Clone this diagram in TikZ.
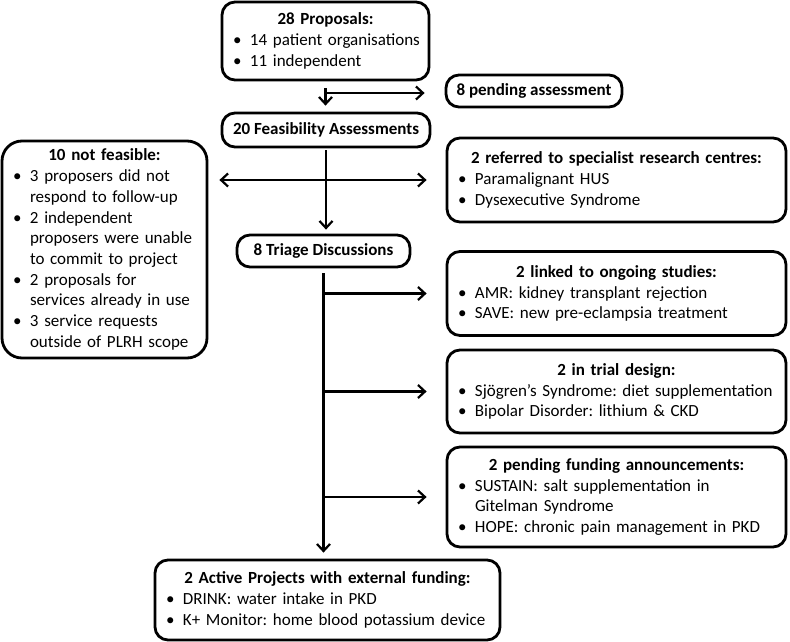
\documentclass[tikz,border=0pt]{standalone}
\usepackage{fontspec}
\setmainfont{Carlito}
\usetikzlibrary{arrows.meta}
\frenchspacing
\hyphenpenalty=10000

\newcommand{\bitem}[1]{\hspace*{7pt}\makebox[17pt][l]{\textbullet}#1}
\newcommand{\bcont}[1]{\hspace*{24pt}#1}
\newcommand{\btitle}[1]{\makebox[\hsize]{\textbf{#1}}}

\begin{document}
\begin{tikzpicture}[x=1pt,y=-1pt,
  box/.style={draw, line width=2.8pt, rounded corners=13pt, align=left,
    inner xsep=4pt, inner ysep=0pt, font=\fontsize{17}{20.7}\selectfont},
  smallbox/.style={box, align=center, font=\fontsize{17}{20.7}\selectfont\bfseries},
  flow/.style={line width=2.2pt, -{Straight Barb[length=7pt,width=13pt]}},
  twoway/.style={line width=2.2pt, {Straight Barb[length=7pt,width=13pt]}-{Straight Barb[length=7pt,width=13pt]}}]

	\useasboundingbox (0,0) rectangle (790,642);

	% main column
	\node[box, text width=199pt, minimum height=78pt] (prop) at (325.5,41)
	  {\btitle{28 Proposals:}\\ \bitem{14 patient organisations}\\ \bitem{11 independent}};
	\node[smallbox, minimum width=208pt, minimum height=34pt] (feas) at (326,130) {20 Feasibility Assessments};
	\node[smallbox, minimum width=173pt, minimum height=32pt] (triage) at (323.5,251) {8 Triage Discussions};
	\node[box, text width=337pt, minimum height=80pt] (active) at (327.5,600)
	  {\btitle{2 Active Projects with external funding:}\\ \bitem{DRINK: water intake in PKD}\\ \bitem{K+ Monitor: home blood potassium device}};

	% side boxes
	\node[smallbox, minimum width=176pt, minimum height=32pt] (pend) at (534,91) {8 pending assessment};
	\node[box, rounded corners=20pt, text width=197pt, minimum height=217pt] (notf) at (104.5,249.5)
	  {\btitle{10 not feasible:}\\ \bitem{3 proposers did not}\\ \bcont{respond to follow-up}\\
	   \bitem{2 independent}\\ \bcont{proposers were unable}\\ \bcont{to commit to project}\\
	   \bitem{2 proposals for}\\ \bcont{services already in use}\\ \bitem{3 service requests}\\ \bcont{outside of PLRH scope}};
	\node[box, text width=331pt, minimum height=84pt] (refer) at (616.5,180)
	  {\btitle{2 referred to specialist research centres:}\\ \bitem{Paramalignant HUS}\\ \bitem{Dysexecutive Syndrome}};
	\node[box, text width=331pt, minimum height=84pt] (linked) at (616.5,293.5)
	  {\btitle{2 linked to ongoing studies:}\\ \bitem{AMR: kidney transplant rejection}\\ \bitem{SAVE: new pre-eclampsia treatment}};
	\node[box, text width=331pt, minimum height=83pt] (trial) at (616.5,391.5)
	  {\btitle{2 in trial design:}\\ \bitem{Sjögren’s Syndrome: diet supplementation}\\ \bitem{Bipolar Disorder: lithium \& CKD}};
	\node[box, text width=331pt, minimum height=100pt] (fund) at (616.5,497)
	  {\btitle{2 pending funding announcements:}\\ \bitem{SUSTAIN: salt supplementation in}\\ \bcont{Gitelman Syndrome}\\ \bitem{HOPE: chronic pain management in PKD}};

	% connectors
	\coordinate (split) at (325,93);
	\draw[flow, shorten <=7pt, shorten >=6pt] (prop.south) -- (prop.south |- feas.north);
	\draw[flow, shorten >=20pt] (split) -- (split -| pend.west);
	\draw[flow, shorten <=2pt, shorten >=4pt] (feas.south) -- (feas.south |- triage.north);
	\draw[twoway, shorten <=11pt, shorten >=19pt] (notf.east |- refer.west) -- (refer.west);
	\draw[flow, shorten <=5pt, shorten >=6pt] (triage.south) -- (triage.south |- active.north);
	\coordinate (b1) at (triage.south |- linked.west);
	\coordinate (b2) at (triage.south |- trial.west);
	\coordinate (b3) at (triage.south |- fund.west);
	\draw[flow, shorten >=19pt] (b1) -- (linked.west);
	\draw[flow, shorten >=19pt] (b2) -- (trial.west);
	\draw[flow, shorten >=19pt] (b3) -- (fund.west);

\end{tikzpicture}
\end{document}
